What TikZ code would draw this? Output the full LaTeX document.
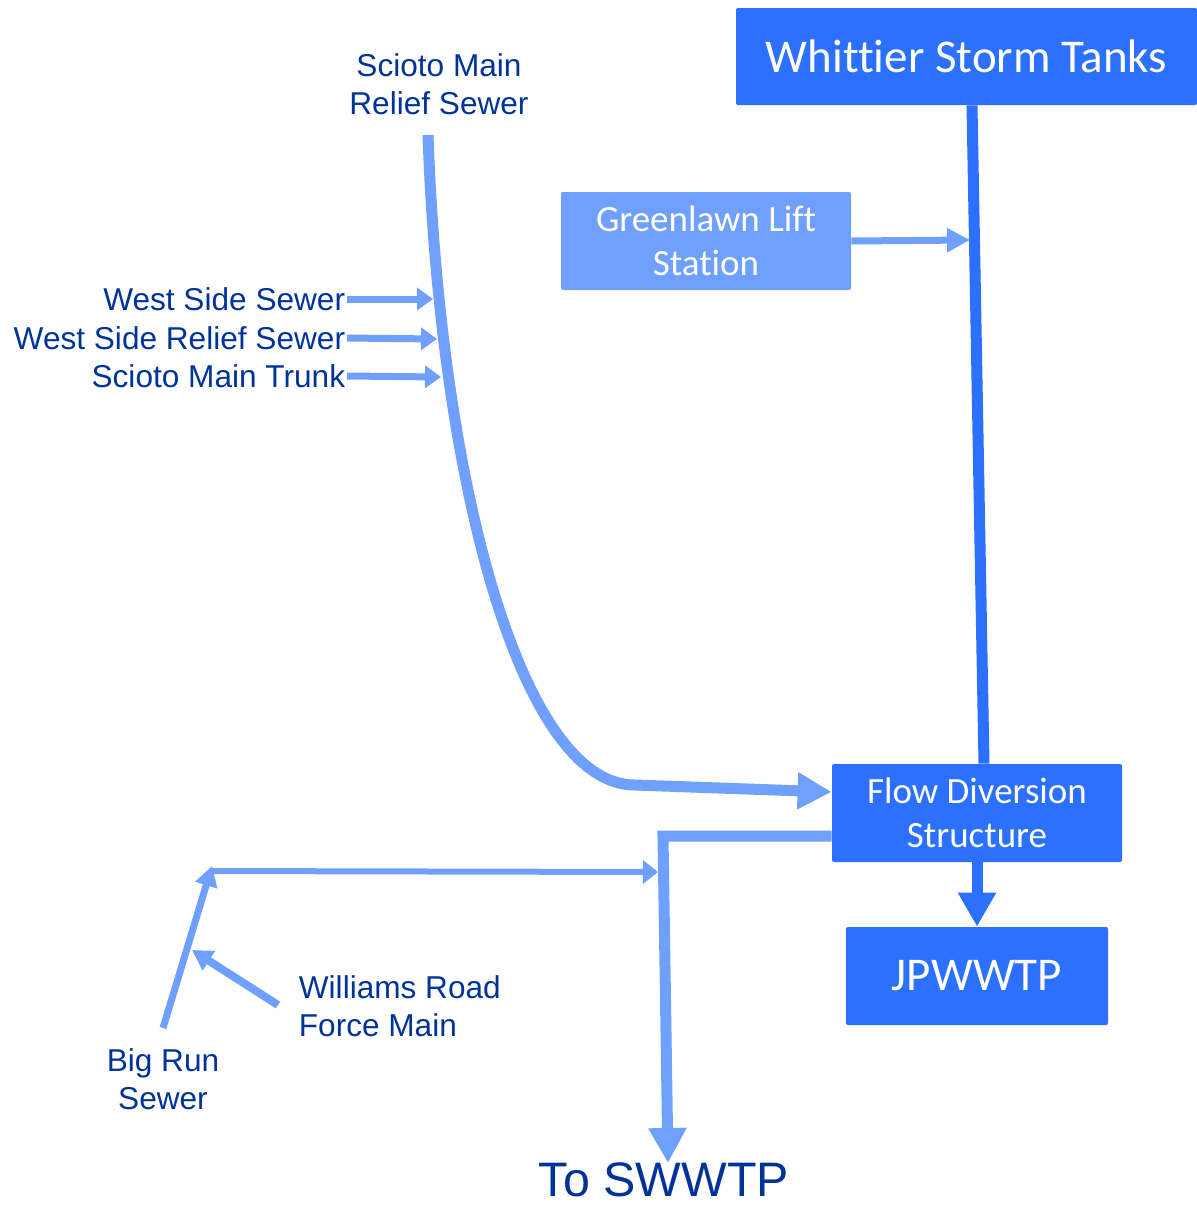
\documentclass[tikz,border=0pt]{standalone}
\usepackage{fontspec}
\setmainfont{Liberation Sans}
\newfontfamily\boxfont[Ligatures=NoCommon]{Carlito}
\usetikzlibrary{arrows.meta,calc}
\definecolor{darkb}{RGB}{43,112,255}
\definecolor{lightb}{RGB}{112,160,255}
\definecolor{navy}{RGB}{0,51,153}
\begin{document}
\begin{tikzpicture}[x=0.5pt,y=-0.5pt,
  darkbox/.style={fill=darkb,text=white,rounded corners=1pt,inner sep=0pt,align=center,font=\boxfont\fontsize{18.5}{22}\selectfont},
  lightbox/.style={darkbox,fill=lightb},
  bigbox/.style={font=\boxfont\fontsize{23.5}{28}\selectfont},
  lbl/.style={text=navy,inner sep=0.75pt,font=\fontsize{15.8}{19}\selectfont},
  sidearrow/.style={draw=lightb,line width=3.5pt,-{Triangle[length=8pt,width=11pt]}},
  mainline/.style={draw=lightb,line width=5.5pt},
  darkline/.style={draw=darkb,line width=5.5pt}]
\useasboundingbox (0,0) rectangle (1197,1206);

% boxes
\node[darkbox,bigbox,minimum width=230.5pt,minimum height=48.5pt] (wst) at (966.5,56.5) {Whittier Storm Tanks};
\node[lightbox,minimum width=145pt,minimum height=49pt] (gls) at (706,241) {Greenlawn Lift\\Station};
\node[darkbox,minimum width=145pt,minimum height=49pt] (fds) at (977,813) {Flow Diversion\\Structure};
\node[darkbox,bigbox,minimum width=131pt,minimum height=49pt] (jp) at (977,976) {JPWWTP};

% labels
\node[lbl,align=center] (smrs) at (439,84) {Scioto Main\\Relief Sewer};
\node[lbl,anchor=east] (wss) at (347,299) {West Side Sewer};
\node[lbl,anchor=east] (wsrs) at (347,338) {West Side Relief Sewer};
\node[lbl,anchor=east] (smt) at (347,376) {Scioto Main Trunk};
\node[lbl,align=left,anchor=west] (wrfm) at (297,1006) {Williams Road\\Force Main};
\node[lbl,align=center] (brs) at (163,1079) {Big Run\\Sewer};
\node[text=navy,inner sep=0pt,font=\fontsize{24.2}{28}\selectfont] (sw) at (664,1180) {To SWWTP};

% coordinates
\coordinate (cstart) at (428,135);
\coordinate (cend) at (635,785);
\coordinate (t1) at (433,299);
\coordinate (t2) at (437,339);
\coordinate (t3) at (441,377);
\coordinate (gtip) at (970,240);
\coordinate (corner) at (663,836);
\coordinate (swtip) at (668,1163);
\coordinate (brtail) at (163,1028);
\coordinate (brtop) at (212,866);
\coordinate (hstart) at (210,871);
\coordinate (hjoin) at (658,872);
\coordinate (wrtail) at (278,1005);
\coordinate (wrtip) at (192,950);

% Whittier line
\draw[darkline] ($(wst.south)+(5.5,0)$) -- ($(fds.north)+(7,0)$);
% Greenlawn arrow
\draw[draw=lightb,line width=3.5pt,-{Triangle[length=11.5pt,width=11.5pt]}] (gls.east) -- (gtip);
% Scioto main relief curve
\draw[mainline,-{Triangle[length=17pt,width=17.5pt]}] (cstart) .. controls (440,480) and (520,785) .. (cend) -- ($(fds.west)+(0,-21)$);
% side inflows
\draw[sidearrow] (wss.east) -- (t1);
\draw[sidearrow] (wsrs.east) -- (t2);
\draw[sidearrow] (smt.east) -- (t3);
% FDS to JPWWTP
\draw[darkline,-{Triangle[length=17pt,width=18pt]}] (fds.south) -- (jp.north);
% FDS to SWWTP
\draw[mainline,line join=miter,-{Triangle[length=17.5pt,width=18pt]}] ($(fds.west)+(0,23)$) -- (corner) -- (swtip);
% Big Run
\draw[draw=lightb,line width=3.5pt,-{Triangle[length=10pt,width=11pt]}] (brtail) -- (brtop);
\draw[draw=lightb,line width=3pt,-{Triangle[length=7.5pt,width=11.5pt]}] (hstart) -- (hjoin);
% Williams Road
\draw[draw=lightb,line width=4pt,-{Triangle[length=10pt,width=11pt]}] (wrtail) -- (wrtip);
\end{tikzpicture}
\end{document}
